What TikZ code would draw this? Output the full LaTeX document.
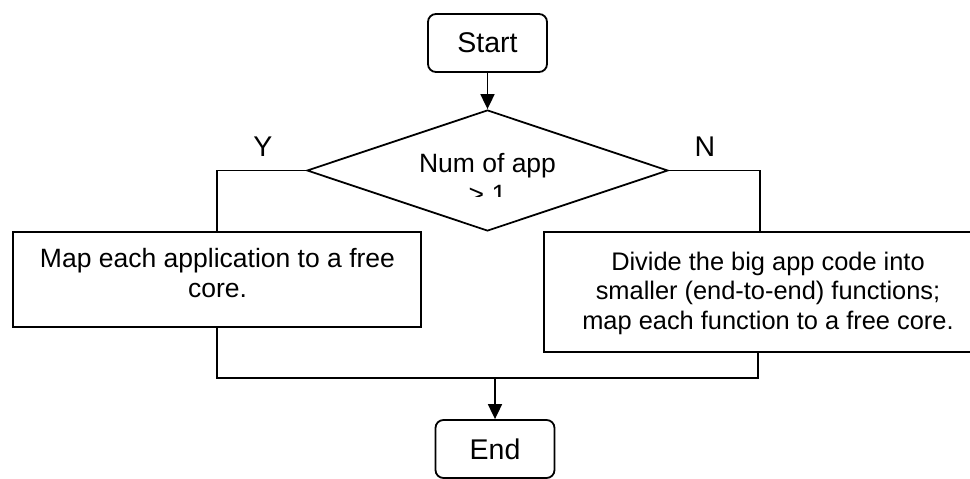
\documentclass[tikz,border=0pt]{standalone}
\usepackage{fontspec}
\setmainfont{Liberation Sans}
\usetikzlibrary{shapes.geometric,arrows.meta}
\begin{document}
\begin{tikzpicture}[x=1pt,y=-1pt,
  line width=1.8pt,
  every node/.style={font=\fontsize{26.5}{30.5}\selectfont},
  big/.style={font=\fontsize{28.5}{32}\selectfont},
  term/.style={draw, big, rounded corners=8pt, minimum width=119pt, minimum height=58pt, inner sep=0pt},
  proc/.style={draw, inner sep=0pt},
  txt/.style={align=center, inner sep=0pt, anchor=base},
  small/.style={font=\fontsize{25.4}{29.5}\selectfont},
  dec/.style={draw, diamond, inner sep=0pt, minimum width=361pt, minimum height=121pt},
  arr/.style={-{Triangle[length=15pt,width=14pt]}}]
\useasboundingbox (0,0) rectangle (970,479);

\node[term] (start) at (487.5,43) {Start};
\node[dec] (dec) at (487.5,170.5) {};
\begin{scope}
  \clip (300,100) rectangle (680,196);
  \node[txt] (dectext) at (487.5,203) {Num of app\\> 1};
\end{scope}

\node[big, inner sep=0pt] (ylab) at (263,146.7) {Y};
\node[big, inner sep=0pt] (nlab) at (705,146.7) {N};

\node[proc, minimum width=408pt, minimum height=95pt] (lbox) at (217,279.5) {};
\node[txt] (ltext) at (217.5,297.5) {Map each application to a free\\core.};

\node[proc, minimum width=446pt, minimum height=120pt] (rbox) at (767,292) {};
\node[txt, small] (rtext) at (768,329) {Divide the big app code into\\smaller (end-to-end) functions;\\map each function to a free core.};

\node[term] (end) at (495,449) {End};

\coordinate (ltop) at (217,232);
\coordinate (rtop) at (760,232);
\coordinate (lbot) at (217,327);
\coordinate (rbot) at (758,352);
\coordinate (join) at (495,378);

\draw[arr] (start) -- (dec.north);
\draw (dec.west) -| (ltop);
\draw (dec.east) -| (rtop);
\draw (lbot) |- (join) -| (rbot);
\draw[arr] (join) -- (end.north);
\end{tikzpicture}
\end{document}
